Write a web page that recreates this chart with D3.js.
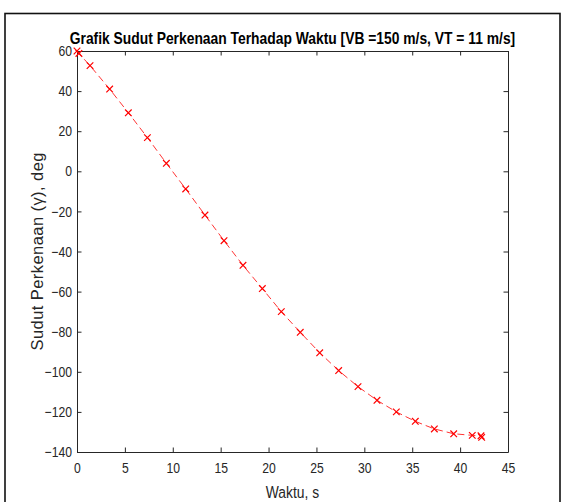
<!DOCTYPE html>
<html>
<head>
<meta charset="utf-8">
<script src="https://cdn.jsdelivr.net/npm/d3@7"></script>
<style>
  html, body { margin: 0; padding: 0; background: #fff; }
  svg { display: block; }
</style>
</head>
<body>
<script>
// Flight time (s) and impact angle (deg) for VB = 150 m/s, VT = 11 m/s
const waktu = [0, 0.2, 1.36, 3.41, 5.36, 7.35, 9.33, 11.35, 13.36, 15.35, 17.33, 19.35,
  21.33, 23.31, 25.34, 27.32, 29.34, 31.32, 33.34, 35.32, 37.31, 39.33, 41.27, 42.18, 42.25];
const sudut = [60, 58.8, 52.7, 41.0, 29.2, 16.8, 4.0, -8.8, -21.8, -34.6, -46.9, -58.5,
  -70.0, -80.3, -90.5, -99.4, -107.4, -114.2, -120.0, -124.7, -128.5, -130.9, -131.7, -131.9, -132.7];
const xTicks = [0, 5, 10, 15, 20, 25, 30, 35, 40, 45];
const yTicks = [60, 40, 20, 0, -20, -40, -60, -80, -100, -120, -140];

const W = 561, H = 502;
const plotL = 77, plotR = 508, plotT = 51, plotB = 452;
const sans = "'Liberation Sans', Arial, Helvetica, sans-serif";
const axisColor = "#262626";
const squeeze = 0.84; // horizontal condensing for a narrow look

const svg = d3.select("body").append("svg").attr("width", W).attr("height", H);

// condense a text element horizontally around its own anchor x
function condense(sel) {
  sel.each(function () {
    const t = d3.select(this);
    const ax = +(t.attr("x") || 0);
    t.attr("transform", `translate(${ax},0) scale(${squeeze},1) translate(${-ax},0)`);
  });
}

// outer figure frame
svg.append("rect")
  .attr("x", 5).attr("y", 13.5).attr("width", 555).attr("height", 500)
  .attr("fill", "#fff").attr("stroke", "#111").attr("stroke-width", 1.6);

const x = d3.scaleLinear().domain([0, 45]).range([plotL, plotR]);
const y = d3.scaleLinear().domain([-140, 60]).range([plotB, plotT]);

const tickLen = 4.5;

function styleAxis(g, hideText) {
  g.select(".domain").attr("stroke", axisColor).attr("stroke-width", 1);
  g.selectAll(".tick line").attr("stroke", axisColor).attr("stroke-width", 1);
  if (hideText) { g.selectAll(".tick text").remove(); return; }
  g.selectAll(".tick text")
    .attr("fill", axisColor)
    .style("font-family", sans)
    .style("font-size", "14.5px")
    .call(condense);
}

// bottom and left axes with inward ticks
svg.append("g").attr("transform", `translate(0,${plotB})`)
  .call(d3.axisBottom(x).tickValues(xTicks).tickSizeInner(-tickLen).tickSizeOuter(0).tickPadding(11))
  .call(g => styleAxis(g, false));
svg.append("g").attr("transform", `translate(${plotL},0)`)
  .call(d3.axisLeft(y).tickValues(yTicks).tickSizeInner(-tickLen).tickSizeOuter(0).tickPadding(5))
  .call(g => styleAxis(g, false));
// top and right box edges with mirrored ticks
svg.append("g").attr("transform", `translate(0,${plotT})`)
  .call(d3.axisTop(x).tickValues(xTicks).tickSizeInner(-tickLen).tickSizeOuter(0))
  .call(g => styleAxis(g, true));
svg.append("g").attr("transform", `translate(${plotR},0)`)
  .call(d3.axisRight(y).tickValues(yTicks).tickSizeInner(-tickLen).tickSizeOuter(0))
  .call(g => styleAxis(g, true));

const pts = waktu.map((t, i) => [t, sudut[i]]);

// dashed trajectory line
svg.append("path")
  .datum(pts)
  .attr("fill", "none")
  .attr("stroke", "#ff0000")
  .attr("stroke-width", 0.8)
  .attr("stroke-dasharray", "7,4")
  .attr("d", d3.line().x(d => x(d[0])).y(d => y(d[1])));

// x markers
const m = 3.3;
svg.append("g").selectAll("path")
  .data(pts)
  .join("path")
  .attr("fill", "none")
  .attr("stroke", "#ff0000")
  .attr("stroke-width", 1.2)
  .attr("d", d => {
    const cx = x(d[0]), cy = y(d[1]);
    return `M${cx - m},${cy - m}L${cx + m},${cy + m}M${cx - m},${cy + m}L${cx + m},${cy - m}`;
  });

// title
svg.append("text")
  .attr("x", (plotL + plotR) / 2).attr("y", 44)
  .attr("text-anchor", "middle")
  .style("font-family", sans)
  .style("font-weight", "bold")
  .style("font-size", "16.5px")
  .attr("fill", "#000")
  .text("Grafik Sudut Perkenaan Terhadap Waktu [VB =150 m/s, VT = 11 m/s]")
  .call(condense);

// x-axis label
svg.append("text")
  .attr("x", (plotL + plotR) / 2).attr("y", 498)
  .attr("text-anchor", "middle")
  .style("font-family", sans)
  .style("font-size", "16.5px")
  .attr("fill", axisColor)
  .text("Waktu, s")
  .call(condense);

// y-axis label
svg.append("text")
  .attr("transform", `translate(43,${(plotT + plotB) / 2}) rotate(-90)`)
  .attr("text-anchor", "middle")
  .attr("textLength", 198)
  .attr("lengthAdjust", "spacing")
  .style("font-family", sans)
  .style("font-size", "16.5px")
  .attr("fill", axisColor)
  .text("Sudut Perkenaan (γ), deg");
</script>
</body>
</html>
